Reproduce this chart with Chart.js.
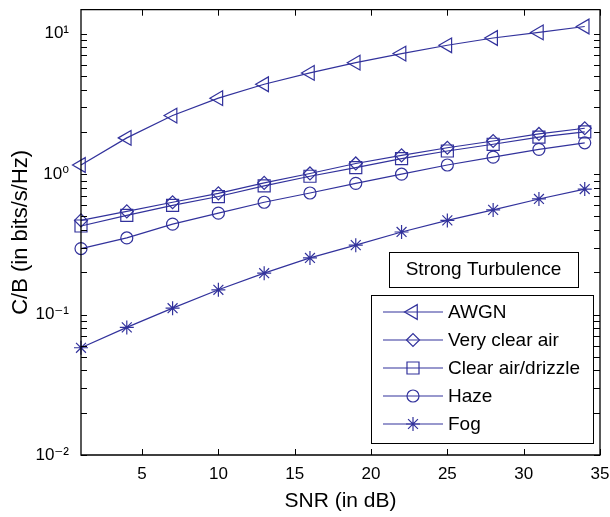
<!DOCTYPE html>
<html><head><meta charset="utf-8">
<script src="https://cdn.jsdelivr.net/npm/chart.js@4/dist/chart.umd.min.js"></script>
<style>html,body{margin:0;padding:0;background:#fff;overflow:hidden}#wrap{width:610px;height:517px}</style>
</head><body><div id="wrap"><canvas id="c" width="610" height="517"></canvas></div>
<script>
// ---- data ----
const snr = [1, 4, 7, 10, 13, 16, 19, 22, 25, 28, 31, 34];
const awgn = [1.16, 1.81, 2.61, 3.47, 4.36, 5.25, 6.21, 7.21, 8.26, 9.31, 10.2, 11.24];
const veryClearAir = [0.468, 0.542, 0.630, 0.729, 0.865, 1.01, 1.19, 1.36, 1.54, 1.72, 1.93, 2.12];
const clearAirDrizzle = [0.427, 0.508, 0.598, 0.692, 0.825, 0.965, 1.11, 1.29, 1.46, 1.63, 1.83, 2.00];
const haze = [0.295, 0.351, 0.440, 0.527, 0.630, 0.733, 0.859, 0.998, 1.16, 1.32, 1.50, 1.67];
const fog = [0.058, 0.081, 0.111, 0.150, 0.197, 0.253, 0.312, 0.387, 0.468, 0.556, 0.665, 0.782];

const seriesLabels = ['AWGN', 'Very clear air', 'Clear air/drizzle', 'Haze', 'Fog'];
const xTicks = [5, 10, 15, 20, 25, 30, 35];
const yTicks = [0.01, 0.1, 1, 10];
const yTickLabels = ['10⁻²', '10⁻¹', '10⁰', '10¹'];
const xTitle = 'SNR (in dB)';
const yTitle = 'C/B (in bits/s/Hz)';
const annotationText = 'Strong Turbulence';

const FONT = "'Liberation Sans', Arial, 'DejaVu Sans', sans-serif";
const BLUE = '#32329c';

function pts(arr) { return snr.map((s, i) => ({ x: s, y: arr[i] })); }

const styles = [
  { pointStyle: 'triangle', rotation: -90, radius: 8.5 },
  { pointStyle: 'rectRot', rotation: 0, radius: 6.5 },
  { pointStyle: 'rect', rotation: 0, radius: 8.5 },
  { pointStyle: 'circle', rotation: 0, radius: 6 },
  { pointStyle: 'star', rotation: 0, radius: 7 }
];
const seriesValues = [awgn, veryClearAir, clearAirDrizzle, haze, fog];

const datasets = seriesValues.map((vals, i) => ({
  label: seriesLabels[i],
  data: pts(vals),
  borderColor: BLUE,
  borderWidth: 1.2,
  backgroundColor: 'rgba(0,0,0,0)',
  pointBackgroundColor: 'rgba(0,0,0,0)',
  pointBorderColor: BLUE,
  pointBorderWidth: 1.2,
  pointStyle: styles[i].pointStyle,
  pointRotation: styles[i].rotation,
  pointRadius: styles[i].radius,
  pointHoverRadius: styles[i].radius,
  tension: 0,
  fill: false,
  clip: false
}));

const frameTicks = {
  id: 'frameTicks',
  afterDatasetsDraw(chart) {
    const { ctx, chartArea: a, scales: { x, y } } = chart;
    ctx.save();
    ctx.strokeStyle = '#000';
    ctx.lineWidth = 1.3;
    ctx.beginPath();
    ctx.rect(a.left, a.top, a.right - a.left, a.bottom - a.top);
    ctx.stroke();
    ctx.lineWidth = 1;
    const L = 6;
    ctx.beginPath();
    xTicks.forEach(v => {
      const px = Math.round(x.getPixelForValue(v)) + 0.5;
      ctx.moveTo(px, a.bottom); ctx.lineTo(px, a.bottom - L);
      ctx.moveTo(px, a.top); ctx.lineTo(px, a.top + L);
    });
    for (let e = -2; e <= 1; e++) {
      for (let m = 1; m <= 9; m++) {
        const v = m * Math.pow(10, e);
        if (v < y.min || v > y.max) continue;
        const py = Math.round(y.getPixelForValue(v)) + 0.5;
        ctx.moveTo(a.left, py); ctx.lineTo(a.left + L, py);
        ctx.moveTo(a.right, py); ctx.lineTo(a.right - L, py);
      }
    }
    ctx.stroke();
    ctx.restore();
  }
};

const legendBox = {
  id: 'legendBox',
  afterDraw(chart) {
    const { ctx } = chart;
    ctx.save();
    // annotation box
    ctx.fillStyle = '#fff';
    ctx.strokeStyle = '#000';
    ctx.lineWidth = 1;
    ctx.fillRect(389, 252, 189, 35);
    ctx.strokeRect(389.5, 252.5, 189, 35);
    ctx.fillStyle = '#000';
    ctx.font = '19px ' + FONT;
    ctx.textAlign = 'center';
    ctx.textBaseline = 'middle';
    ctx.fillText(annotationText, 483.5, 270);
    // legend box
    const bx = 371, by = 295, bw = 222, bh = 148;
    ctx.fillStyle = '#fff';
    ctx.fillRect(bx, by, bw, bh);
    ctx.strokeRect(bx + 0.5, by + 0.5, bw, bh);
    chart.data.datasets.forEach((ds, i) => {
      const cy = by + 17 + i * 28;
      ctx.strokeStyle = ds.borderColor;
      ctx.lineWidth = ds.borderWidth;
      ctx.beginPath();
      ctx.moveTo(383, cy); ctx.lineTo(443, cy);
      ctx.stroke();
      ctx.lineWidth = ds.pointBorderWidth;
      ctx.fillStyle = 'rgba(0,0,0,0)';
      Chart.helpers.drawPoint(ctx, {
        pointStyle: ds.pointStyle, rotation: ds.pointRotation,
        radius: ds.pointRadius, borderWidth: ds.pointBorderWidth
      }, 413, cy);
      ctx.fillStyle = '#000';
      ctx.font = '19px ' + FONT;
      ctx.textAlign = 'left';
      ctx.textBaseline = 'middle';
      ctx.fillText(ds.label, 448, cy + 1);
    });
    ctx.restore();
  }
};

new Chart(document.getElementById('c'), {
  type: 'line',
  data: { datasets },
  options: {
    responsive: false,
    animation: false,
    devicePixelRatio: 1,
    layout: { padding: { top: 6, right: 10, bottom: 0, left: 0 } },
    plugins: { legend: { display: false }, tooltip: { enabled: false } },
    scales: {
      x: {
        type: 'linear',
        min: 1, max: 35,
        grid: { display: false, drawTicks: false },
        border: { display: false },
        afterBuildTicks(s) { s.ticks = xTicks.map(v => ({ value: v })); },
        afterFit(s) { s.height = 62; s.paddingLeft = 0; s.paddingRight = 0; },
        ticks: { color: '#000', font: { family: FONT, size: 17 }, padding: 9, maxRotation: 0, autoSkip: false,
          callback: (v) => String(v) },
        title: { display: true, text: xTitle, color: '#000', font: { family: FONT, size: 21 }, padding: { top: 0, bottom: 3 } }
      },
      y: {
        type: 'logarithmic',
        min: 0.01, max: 14.8,
        grid: { display: false, drawTicks: false },
        border: { display: false },
        afterBuildTicks(s) { s.ticks = yTicks.map(v => ({ value: v, major: true })); },
        afterFit(s) { s.width = 81; s.paddingTop = 0; s.paddingBottom = 0; },
        ticks: { color: '#000', font: { family: FONT, size: 17 }, padding: 12, autoSkip: false,
          callback: (v, i) => yTickLabels[i] },
        title: { display: true, text: yTitle, color: '#000', font: { family: FONT, size: 22 }, padding: { top: 8, bottom: 0 } }
      }
    }
  },
  plugins: [frameTicks, legendBox]
});
</script>
</body></html>
